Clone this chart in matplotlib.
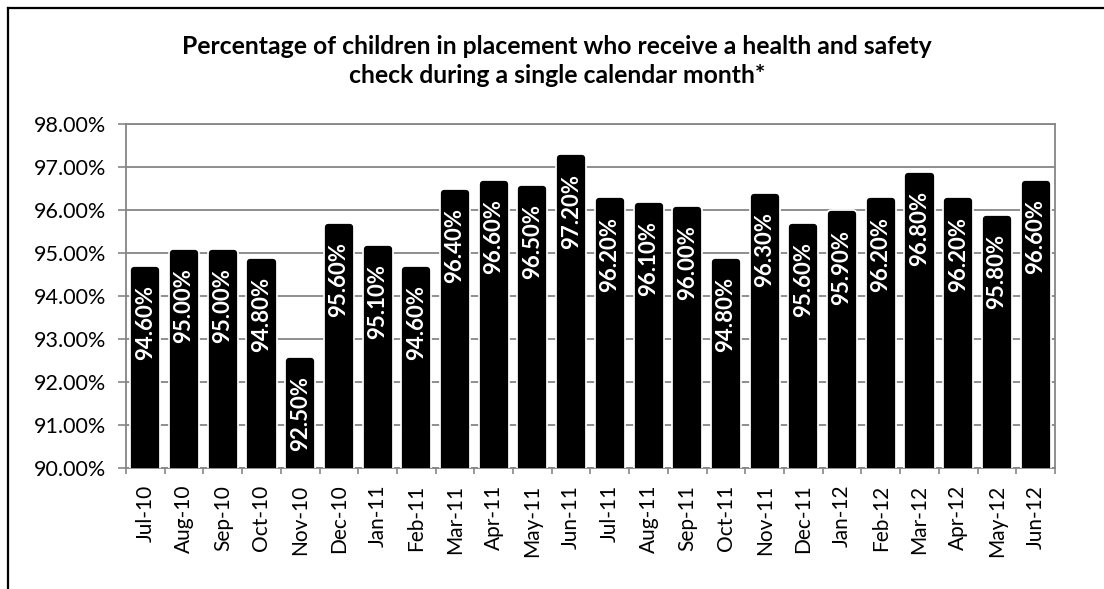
"""Bar chart: monthly share of children in placement with a health and safety check."""

import matplotlib

matplotlib.use("Agg")
import matplotlib.pyplot as plt
import matplotlib.patheffects as pe
import numpy as np
from matplotlib.lines import Line2D
from matplotlib.ticker import FixedLocator, FuncFormatter

months = [
    "Jul-10", "Aug-10", "Sep-10", "Oct-10", "Nov-10", "Dec-10",
    "Jan-11", "Feb-11", "Mar-11", "Apr-11", "May-11", "Jun-11",
    "Jul-11", "Aug-11", "Sep-11", "Oct-11", "Nov-11", "Dec-11",
    "Jan-12", "Feb-12", "Mar-12", "Apr-12", "May-12", "Jun-12",
]
pct_checked = [
    94.6, 95.0, 95.0, 94.8, 92.5, 95.6,
    95.1, 94.6, 96.4, 96.6, 96.5, 97.2,
    96.2, 96.1, 96.0, 94.8, 96.3, 95.6,
    95.9, 96.2, 96.8, 96.2, 95.8, 96.6,
]
y_ticks = [90, 91, 92, 93, 94, 95, 96, 97, 98]
title = (
    "Percentage of children in placement who receive a health and safety\n"
    "check during a single calendar month*"
)

GRAY = "#868686"
plt.rcParams["font.family"] = ["Lato", "DejaVu Sans"]

W, H = 1104, 589
fig = plt.figure(figsize=(W / 100, H / 100), dpi=100)
ax = fig.add_axes([126 / W, 1 - 468 / H, (1055 - 126) / W, (468 - 124) / H])

x = np.arange(len(months))
bars = ax.bar(
    x,
    pct_checked,
    width=0.57,
    color="black",
    edgecolor="black",
    linewidth=4.5,
    joinstyle="round",
    zorder=3,
)
for b in bars:
    b.set_path_effects([pe.Stroke(linewidth=7, foreground="white"), pe.Normal()])

for xi, val in zip(x, pct_checked):
    ax.annotate(
        f"{val:.2f}%",
        xy=(xi, val),
        xytext=(0, -11),
        textcoords="offset points",
        rotation=90,
        ha="center",
        va="top",
        color="white",
        fontsize=16,
        fontweight="bold",
        zorder=4,
    )

ax.set_xlim(-0.5, len(months) - 0.5)
ax.set_ylim(90, 98)
ax.set_yticks(y_ticks)
ax.yaxis.set_major_formatter(FuncFormatter(lambda v, _: f"{v:.2f}%"))
ax.yaxis.grid(True, color=GRAY, linewidth=1.3, zorder=0)
ax.set_axisbelow(True)

# category boundaries get the tick marks, centres get the labels
ax.xaxis.set_major_locator(FixedLocator(np.arange(len(months) + 1) - 0.5))
ax.xaxis.set_major_formatter(FuncFormatter(lambda v, _: ""))
ax.xaxis.set_minor_locator(FixedLocator(x))
ax.set_xticklabels(months, minor=True, rotation=90, fontsize=15)
ax.tick_params(axis="x", which="major", length=4.5, width=1.2, color=GRAY)
ax.tick_params(axis="x", which="minor", length=0, pad=12)
ax.tick_params(axis="y", length=5.5, width=1.2, color=GRAY, labelsize=15.5, pad=9)

for spine in ax.spines.values():
    spine.set_color(GRAY)
    spine.set_linewidth(1.3)

fig.text(557 / W, 1 - 61 / H, title, ha="center", va="center", fontsize=17.8,
         fontweight="bold", linespacing=1.3)

# outer chart-area frame (only the left and top edges fall inside the picture)
fx, fy = 7.5 / W, 1 - 7.5 / H
fig.add_artist(Line2D([fx, fx], [0, fy], color="black", linewidth=1.6))
fig.add_artist(Line2D([fx, 1], [fy, fy], color="black", linewidth=1.6))

fig.savefig("out.png", dpi=100)
